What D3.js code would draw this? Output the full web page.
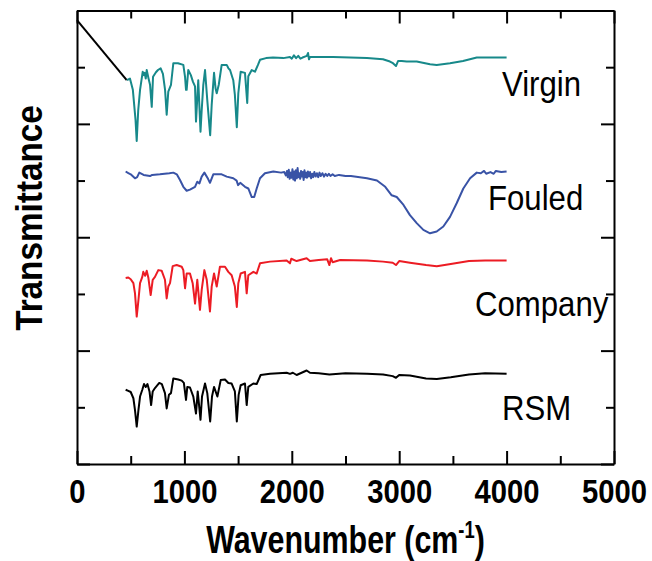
<!DOCTYPE html>
<html>
<head>
<meta charset="utf-8">
<script src="https://cdn.jsdelivr.net/npm/d3@7"></script>
<style>
  body { margin: 0; background: #fff; }
  svg { display: block; }
  .axis path, .axis line { stroke: #000; stroke-width: 2; }
  .axis text { font-family: 'Liberation Sans', Arial, sans-serif; font-weight: bold; font-size: 34px; fill: #000; }
</style>
</head>
<body>
<div id="chart"></div>
<script>
// wavenumber ticks
const majorX = [0, 1000, 2000, 3000, 4000, 5000]
const minorX = [500, 1500, 2500, 3500, 4500]
// transmittance ticks (offset units, no labels)
const majorY = [0, 2, 4, 6, 8]
const minorY = [1, 3, 5, 7]

const seriesNames = ['Virgin', 'Fouled', 'Company', 'RSM']
const seriesColors = ['#17898a', '#3953a6', '#ec1c24', '#000000']

// stray baseline segment at the start of the virgin scan
const artifact = [[0, 7.83], [463, 6.77]]

// [wavenumber, transmittance + offset]
const virgin = [
  [465, 6.77], [493, 6.8], [520, 6.6], [545, 6.07], [556, 5.7], [570, 6.24], [587, 6.6],
  [612, 6.92], [622, 6.86], [630, 6.9], [640, 6.8], [649, 6.95], [665, 6.81], [680, 6.69], [696, 6.3], [708, 6.83],
  [735, 6.91], [754, 6.95], [779, 6.98], [800, 6.88], [820, 6.6], [835, 6.16], [850, 6.57],
  [875, 6.69], [897, 7.07], [940, 7.07], [990, 7.04], [1006, 6.83], [1015, 6.6], [1021, 6.6],
  [1036, 6.95], [1060, 6.86], [1080, 6.74], [1099, 6.66], [1108, 6.04], [1129, 6.77],
  [1150, 5.86], [1161, 6.24], [1176, 6.69], [1192, 6.95], [1213, 6.42], [1240, 5.8],
  [1254, 6.33], [1276, 6.9], [1290, 6.63], [1301, 6.54], [1320, 6.69], [1347, 7.04],
  [1394, 7.04], [1410, 6.98], [1425, 6.95], [1455, 6.77], [1470, 6.51], [1488, 5.94],
  [1502, 6.54], [1524, 6.92], [1564, 6.9], [1585, 6.37], [1595, 6.84], [1627, 6.95],
  [1657, 6.92], [1685, 7.04], [1704, 7.13], [1760, 7.16], [1825, 7.17], [1921, 7.16],
  [1983, 7.18], [2000, 7.15], [2020, 7.21], [2040, 7.16], [2060, 7.2], [2080, 7.15], [2100, 7.17], [2140, 7.2],
  [2151, 7.25], [2160, 7.14], [2169, 7.18], [2244, 7.18], [2384, 7.18], [2700, 7.16],
  [2849, 7.14], [2914, 7.1], [2942, 7.07], [2970, 7.02], [2990, 7.11], [3023, 7.11],
  [3070, 7.1], [3163, 7.1], [3287, 7.05], [3349, 7.04], [3473, 7.07], [3594, 7.11],
  [3722, 7.17], [3845, 7.17], [4000, 7.17]
]

const fouled = [
  [453, 5.16], [478, 5.13], [500, 5.11], [540, 5.04], [560, 5.06], [580, 5.14], [620, 5.1],
  [680, 5.08], [700, 5.1], [772, 5.11], [860, 5.13], [897, 5.14], [929, 5.11], [959, 5.01],
  [990, 4.89], [1021, 4.82], [1052, 4.84], [1099, 4.89], [1120, 4.98], [1140, 4.95],
  [1161, 5.07], [1186, 5.14], [1220, 5.03], [1238, 4.96], [1269, 5.11], [1347, 5.11],
  [1394, 5.07], [1455, 5.04], [1486, 5.0], [1500, 4.92], [1520, 4.96], [1564, 4.89],
  [1595, 4.86], [1627, 4.71], [1650, 4.71], [1673, 4.86], [1704, 5.04], [1750, 5.13],
  [1828, 5.16], [1900, 5.14], [1930, 5.15], [1945, 5.09], [1955, 5.17], [1962, 5.06],
  [1972, 5.19], [1980, 5.03], [1990, 5.14], [1998, 5.05], [2006, 5.2], [2014, 5.02],
  [2022, 5.16], [2030, 5.0], [2038, 5.18], [2046, 5.04], [2054, 5.22], [2062, 5.06],
  [2070, 5.13], [2078, 5.03], [2086, 5.17], [2094, 5.07], [2102, 5.15], [2110, 5.01],
  [2118, 5.18], [2126, 5.06], [2134, 5.14], [2142, 5.05], [2150, 5.16], [2160, 5.07],
  [2170, 5.15], [2180, 5.04], [2190, 5.12], [2200, 5.06], [2210, 5.15], [2222, 5.07],
  [2234, 5.13], [2246, 5.06], [2258, 5.14], [2270, 5.08], [2285, 5.13], [2300, 5.07],
  [2315, 5.12], [2330, 5.08], [2345, 5.12], [2360, 5.08], [2380, 5.11], [2400, 5.08],
  [2440, 5.1], [2500, 5.08], [2550, 5.08], [2700, 5.04], [2793, 5.0], [2870, 4.89],
  [2930, 4.74], [2977, 4.71], [3040, 4.57], [3100, 4.39], [3163, 4.25], [3225, 4.13],
  [3287, 4.07], [3349, 4.1], [3411, 4.19], [3473, 4.36], [3535, 4.6], [3597, 4.86],
  [3660, 5.04], [3722, 5.14], [3760, 5.13], [3790, 5.17], [3810, 5.12], [3850, 5.15],
  [3880, 5.12], [3900, 5.17], [3950, 5.15], [4000, 5.16]
]

const company = [
  [453, 3.28], [478, 3.29], [500, 3.26], [525, 3.19], [540, 3.01], [556, 2.6], [572, 2.89],
  [587, 3.19], [608, 3.3], [617, 3.39], [635, 3.32], [649, 3.41], [665, 3.28], [686, 2.98],
  [705, 3.25], [726, 3.3], [757, 3.42], [788, 3.41], [819, 3.25], [835, 2.92], [850, 3.13],
  [866, 3.19], [891, 3.49], [928, 3.51], [975, 3.48], [990, 3.42], [1006, 3.1], [1021, 3.36],
  [1052, 3.36], [1077, 3.19], [1099, 2.83], [1120, 3.25], [1145, 2.72], [1161, 3.07],
  [1186, 3.42], [1208, 3.25], [1238, 2.69], [1254, 3.13], [1276, 3.36], [1301, 3.13],
  [1331, 3.48], [1378, 3.48], [1409, 3.39], [1440, 3.33], [1470, 3.13], [1488, 2.77],
  [1502, 3.19], [1524, 3.36], [1564, 3.39], [1580, 3.01], [1595, 3.33], [1642, 3.39],
  [1673, 3.36], [1704, 3.54], [1797, 3.57], [1952, 3.59], [1983, 3.54], [1995, 3.62],
  [2045, 3.58], [2138, 3.63], [2169, 3.58], [2250, 3.6], [2330, 3.61], [2350, 3.51],
  [2365, 3.63], [2380, 3.56], [2450, 3.6], [2700, 3.59], [2850, 3.57], [2940, 3.55],
  [2970, 3.51], [3000, 3.58], [3100, 3.55], [3250, 3.51], [3350, 3.49], [3480, 3.53],
  [3650, 3.58], [3800, 3.59], [4000, 3.59]
]

const rsm = [
  [453, 1.31], [478, 1.29], [500, 1.27], [525, 1.16], [540, 0.95], [556, 0.66], [572, 0.95],
  [587, 1.19], [608, 1.31], [624, 1.41], [640, 1.36], [656, 1.41], [675, 1.28], [690, 1.04],
  [705, 1.28], [726, 1.34], [766, 1.43], [790, 1.41], [819, 1.25], [835, 0.98], [856, 1.22],
  [875, 1.25], [897, 1.51], [943, 1.49], [975, 1.47], [995, 1.43], [1015, 1.13], [1027, 1.36],
  [1052, 1.35], [1083, 1.19], [1108, 0.89], [1124, 1.28], [1150, 0.78], [1164, 1.19],
  [1192, 1.42], [1213, 1.25], [1240, 0.75], [1257, 1.19], [1276, 1.36], [1307, 1.19],
  [1338, 1.48], [1378, 1.49], [1409, 1.43], [1440, 1.42], [1470, 1.28], [1488, 0.75],
  [1505, 1.22], [1524, 1.39], [1564, 1.42], [1580, 1.04], [1595, 1.36], [1642, 1.42],
  [1673, 1.41], [1710, 1.57], [1797, 1.59], [1952, 1.61], [1983, 1.59], [2010, 1.61],
  [2045, 1.57], [2138, 1.65], [2169, 1.61], [2250, 1.6], [2350, 1.58], [2500, 1.6],
  [2700, 1.59], [2850, 1.58], [2940, 1.55], [2970, 1.52], [3000, 1.57], [3100, 1.56],
  [3250, 1.51], [3350, 1.5], [3480, 1.53], [3650, 1.58], [3800, 1.6], [4000, 1.59]
]

// label anchor: [wavenumber, offset value] for the start of each name
const labelAt = [[3957, 6.49], [3827, 4.48], [3706, 2.61], [3957, 0.78]]

const margin = { top: 10.5, left: 77, right: 38, bottom: 97 }
const width = 652 - margin.left - margin.right
const height = 561 - margin.top - margin.bottom

const svg = d3
  .select('#chart')
  .append('svg')
  .attr('width', width + margin.left + margin.right)
  .attr('height', height + margin.top + margin.bottom)
  .append('g')
  .attr('transform', 'translate(' + margin.left + ',' + margin.top + ')')

const xPositionScale = d3.scaleLinear().domain([0, 5000]).range([0, width])
const yPositionScale = d3.scaleLinear().domain([0, 8]).range([height, 0])

const line = d3
  .line()
  .x(d => xPositionScale(d[0]))
  .y(d => yPositionScale(d[1]))

const allSeries = [virgin, fouled, company, rsm]

svg
  .append('path')
  .datum(artifact)
  .attr('d', line)
  .attr('fill', 'none')
  .attr('stroke', '#000')
  .attr('stroke-width', 2)

svg
  .selectAll('.spectrum')
  .data(allSeries)
  .enter()
  .append('path')
  .attr('class', 'spectrum')
  .attr('d', line)
  .attr('fill', 'none')
  .attr('stroke', (d, i) => seriesColors[i])
  .attr('stroke-width', 2)
  .attr('stroke-linejoin', 'round')

svg
  .selectAll('.series-name')
  .data(seriesNames)
  .enter()
  .append('text')
  .attr('class', 'series-name')
  .attr('transform', (d, i) =>
    'translate(' + xPositionScale(labelAt[i][0]) + ',' + yPositionScale(labelAt[i][1]) + ') scale(0.89,1)')
  .attr('font-family', "'Liberation Sans', Arial, sans-serif")
  .attr('font-size', 35)
  .attr('fill', '#000')
  .text(d => d)

// axes, ticks pointing inward on all four sides
const major = 13
const minor = 8

svg.append('g')
  .attr('class', 'axis x-axis')
  .attr('transform', 'translate(0,' + height + ')')
  .call(d3.axisBottom(xPositionScale).tickValues(majorX).tickSizeInner(-major).tickSizeOuter(0).tickPadding(15).tickFormat(d3.format('d')))
  .call(g => g.selectAll('text').attr('transform', 'scale(0.86,1)'))

svg.append('g')
  .attr('class', 'axis')
  .attr('transform', 'translate(0,' + height + ')')
  .call(d3.axisBottom(xPositionScale).tickValues(minorX).tickSizeInner(-minor).tickSizeOuter(0).tickFormat(''))
  .call(g => g.select('.domain').remove())

svg.append('g')
  .attr('class', 'axis')
  .call(d3.axisTop(xPositionScale).tickValues(majorX).tickSizeInner(-major).tickSizeOuter(0).tickFormat(''))

svg.append('g')
  .attr('class', 'axis')
  .call(d3.axisTop(xPositionScale).tickValues(minorX).tickSizeInner(-minor).tickSizeOuter(0).tickFormat(''))
  .call(g => g.select('.domain').remove())

svg.append('g')
  .attr('class', 'axis')
  .call(d3.axisLeft(yPositionScale).tickValues(majorY).tickSizeInner(-major).tickSizeOuter(0).tickFormat(''))

svg.append('g')
  .attr('class', 'axis')
  .call(d3.axisLeft(yPositionScale).tickValues(minorY).tickSizeInner(-minor).tickSizeOuter(0).tickFormat(''))
  .call(g => g.select('.domain').remove())

svg.append('g')
  .attr('class', 'axis')
  .attr('transform', 'translate(' + width + ',0)')
  .call(d3.axisRight(yPositionScale).tickValues(majorY).tickSizeInner(-major).tickSizeOuter(0).tickFormat(''))

svg.append('g')
  .attr('class', 'axis')
  .attr('transform', 'translate(' + width + ',0)')
  .call(d3.axisRight(yPositionScale).tickValues(minorY).tickSizeInner(-minor).tickSizeOuter(0).tickFormat(''))
  .call(g => g.select('.domain').remove())

// axis titles
const xTitle = svg
  .append('text')
  .attr('transform', 'translate(' + width / 2 + ',' + (height + 89) + ') scale(0.8,1)')
  .attr('text-anchor', 'middle')
  .attr('font-family', "'Liberation Sans', Arial, sans-serif")
  .attr('font-weight', 'bold')
  .attr('font-size', 38)
xTitle.append('tspan').text('Wavenumber (cm')
xTitle.append('tspan').attr('font-size', 23).attr('dy', -15).text('-1')
xTitle.append('tspan').attr('dy', 15).text(')')

svg
  .append('text')
  .attr('transform', 'translate(' + (42 - margin.left) + ',' + (218 - margin.top) + ') rotate(-90) scale(0.9,1)')
  .attr('text-anchor', 'middle')
  .attr('font-family', "'Liberation Sans', Arial, sans-serif")
  .attr('font-weight', 'bold')
  .attr('font-size', 37)
  .text('Transmittance')
</script>
</body>
</html>
